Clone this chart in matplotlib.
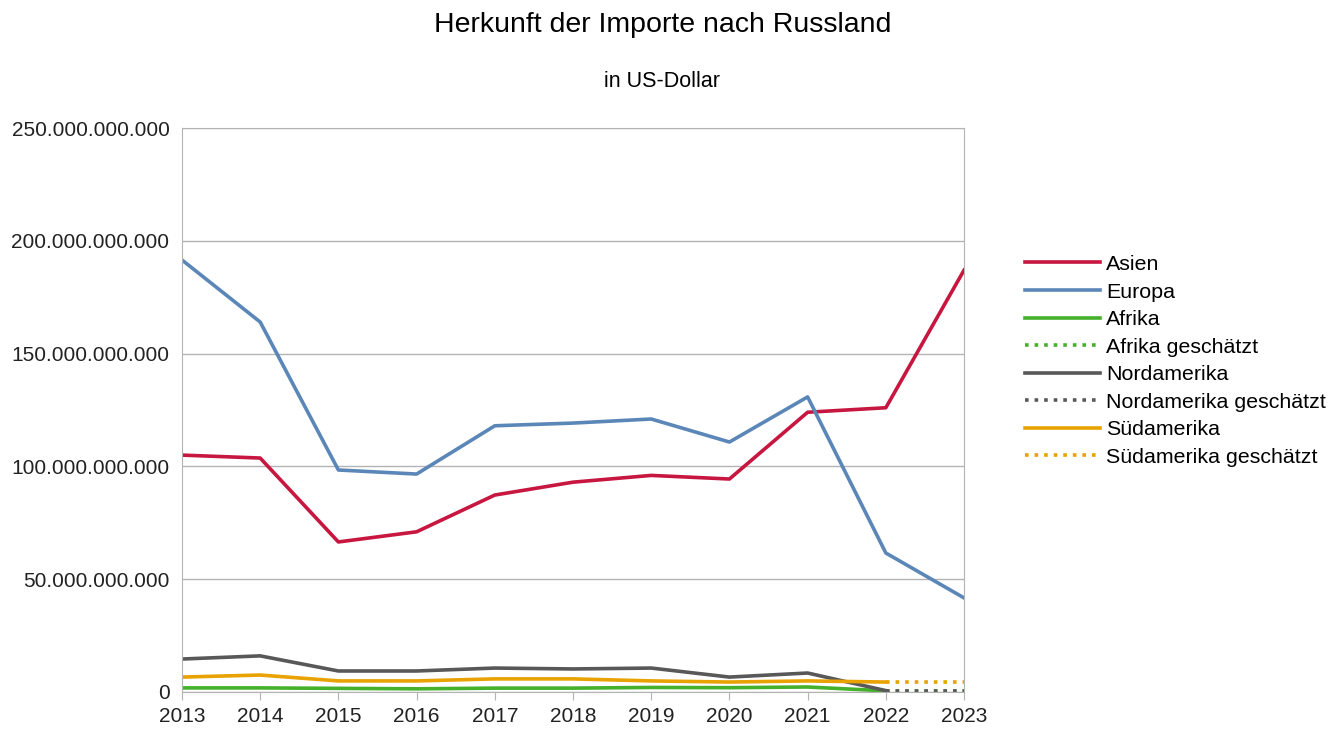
import matplotlib.pyplot as plt
from matplotlib.ticker import FuncFormatter

plt.rcParams['font.family'] = ['Liberation Sans', 'DejaVu Sans']

years = [2013, 2014, 2015, 2016, 2017, 2018, 2019, 2020, 2021, 2022, 2023]
years_est = [2022, 2023]

asien = [105.0, 103.7, 66.5, 71.0, 87.3, 93.0, 96.0, 94.4, 124.0, 126.0, 187.0]
europa = [191.5, 164.0, 98.4, 96.6, 118.0, 119.2, 121.0, 110.8, 130.8, 61.6, 41.7]
afrika = [1.8, 1.8, 1.6, 1.4, 1.7, 1.7, 2.0, 1.9, 2.2, 0.5]
afrika_est = [0.5, 0.5]
nordamerika = [14.6, 16.0, 9.3, 9.3, 10.6, 10.2, 10.6, 6.6, 8.4, 0.6]
nordamerika_est = [0.6, 0.6]
suedamerika = [6.6, 7.5, 4.9, 4.9, 5.8, 5.8, 4.9, 4.4, 4.9, 4.4]
suedamerika_est = [4.4, 4.4]

scale = 1e9

fig = plt.figure(figsize=(13.41, 7.29), dpi=100)
ax = fig.add_axes([0.1357, 0.0508, 0.5832, 0.7736])

lw = 2.6
ax.plot(years, [v * scale for v in asien], color='#c7163f', lw=lw, label='Asien')
ax.plot(years, [v * scale for v in europa], color='#5b87b8', lw=lw, label='Europa')
ax.plot(years[:10], [v * scale for v in afrika], color='#45b12b', lw=lw, label='Afrika')
ax.plot(years_est, [v * scale for v in afrika_est], color='#45b12b', lw=lw, ls=':', label='Afrika geschätzt')
ax.plot(years[:10], [v * scale for v in nordamerika], color='#585858', lw=lw, label='Nordamerika')
ax.plot(years_est, [v * scale for v in nordamerika_est], color='#585858', lw=lw, ls=':', label='Nordamerika geschätzt')
ax.plot(years[:10], [v * scale for v in suedamerika], color='#e8a202', lw=lw, label='Südamerika')
ax.plot(years_est, [v * scale for v in suedamerika_est], color='#e8a202', lw=lw, ls=':', label='Südamerika geschätzt')

ax.set_xlim(2013, 2023)
ax.set_ylim(0, 250e9)
ax.set_xticks(years)
ax.set_yticks([0, 50e9, 100e9, 150e9, 200e9, 250e9])
ax.yaxis.set_major_formatter(FuncFormatter(lambda v, p: f"{int(v):,}".replace(',', '.')))
ax.tick_params(axis='both', labelsize=15, colors='#222222', length=6, color='#b3b3b3')
ax.tick_params(axis='x', pad=5)
ax.tick_params(axis='y', length=0, pad=9)
ax.grid(axis='y', color='#b3b3b3', lw=1)
for s in ax.spines.values():
    s.set_color('#b3b3b3')
ax.set_axisbelow(True)

fig.text(0.494, 0.966, 'Herkunft der Importe nach Russland', ha='center', va='center', fontsize=20.5)
fig.text(0.494, 0.888, 'in US-Dollar', ha='center', va='center', fontsize=15.5)

ax.legend(loc='center left', bbox_to_anchor=(1.078, 0.587), frameon=False, fontsize=15.4,
          borderaxespad=0, borderpad=0,
          handlelength=3.5, handletextpad=0.3, labelspacing=0.4)

fig.savefig('out.png', dpi=100)
